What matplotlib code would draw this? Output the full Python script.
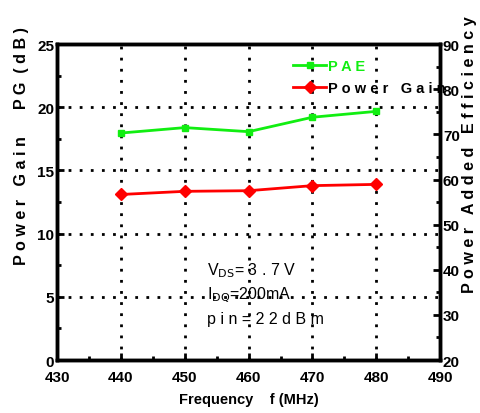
import matplotlib
matplotlib.use('Agg')
import matplotlib.pyplot as plt
from matplotlib.ticker import MultipleLocator

plt.rcParams['font.family'] = ['Liberation Sans', 'DejaVu Sans']

# data
freq = [440, 450, 460, 470, 480]
gain = [13.1, 13.35, 13.4, 13.8, 13.9]
pae = [70.3, 71.5, 70.6, 73.8, 75.1]

fig = plt.figure(figsize=(4.8, 4.14), dpi=100)
ax = fig.add_axes([0.119, 0.128, 0.798, 0.763])
ax2 = ax.twinx()

l1, = ax2.plot(freq, pae, color='#11ee11', lw=2, marker='s', ms=4, label='P A E')
l2, = ax.plot(freq, gain, color='red', lw=2, marker='D', ms=6, label='P o w e r   G a i n')

ax.set_xlim(430, 490)
ax.set_ylim(0, 25)
ax2.set_ylim(20, 90)
ax.xaxis.set_major_locator(MultipleLocator(10))
ax.xaxis.set_minor_locator(MultipleLocator(5))
ax.yaxis.set_major_locator(MultipleLocator(5))
ax.yaxis.set_minor_locator(MultipleLocator(2.5))
ax2.yaxis.set_major_locator(MultipleLocator(10))
ax2.yaxis.set_minor_locator(MultipleLocator(5))

for a in (ax, ax2):
    a.tick_params(which='both', direction='in', width=2, labelsize=11)
    a.tick_params(which='major', length=5)
    a.tick_params(which='minor', length=3)
    for lab in a.get_xticklabels() + a.get_yticklabels():
        lab.set_fontweight('bold')
    for s in a.spines.values():
        s.set_linewidth(2.5)
ax.tick_params(axis='x', pad=7)
ax.tick_params(axis='y', pad=2)
ax2.tick_params(axis='y', pad=2)

ax.grid(True, which='major', color='black', linestyle=(0, (1, 3)), lw=2)

ax.set_xlabel('Frequency    f (MHz)', fontweight='bold', fontsize=10.5, labelpad=6)
fig.text(0.045, 0.36, 'P o w e r   G a i n      P G  ( d B )', rotation=90,
         ha='center', va='bottom', fontweight='bold', fontsize=11.6)
fig.text(0.978, 0.626, 'P o w e r   A d d e d   E f f i c i e n c y', rotation=90,
         ha='center', va='center', fontweight='bold', fontsize=11.6)

lg = ax2.legend(handles=[l1, l2], loc='upper left', bbox_to_anchor=(0.6, 0.97),
                frameon=False, fontsize=10.5, handlelength=2.3, handletextpad=0.1,
                borderaxespad=0, labelspacing=0.55)
lg.get_texts()[0].set_color('#11ee11')
for t in lg.get_texts():
    t.set_fontweight('bold')

ax.text(453.5, 6.8, r'V$_{\rm DS}$= 3 . 7 V', fontsize=11.5)
ax.text(453.5, 4.85, r'I$_{\rm DQ}$=200mA', fontsize=11.5)
ax.text(453.5, 2.9, 'p i n = 2 2 d B m', fontsize=11.5)

fig.savefig('out.png', dpi=100)
